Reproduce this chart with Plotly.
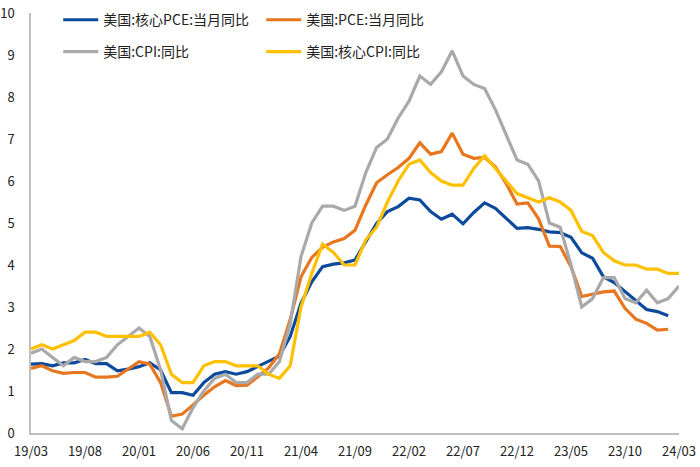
import plotly.graph_objects as go

# month labels 19/03 .. 24/03 (61 months)
months = []
yy, mm = 2019, 3
for _ in range(61):
    months.append(f"{yy % 100:02d}/{mm:02d}")
    mm += 1
    if mm > 12:
        mm = 1
        yy += 1

tick_labels = ["19/03", "19/08", "20/01", "20/06", "20/11", "21/04", "21/09",
               "22/02", "22/07", "22/12", "23/05", "23/10", "24/03"]

core_pce = [1.64, 1.65, 1.60, 1.67, 1.67, 1.75, 1.65, 1.65, 1.48, 1.52,
            1.58, 1.67, 1.50, 0.96, 0.96, 0.90, 1.20, 1.40, 1.46, 1.40, 1.46, 1.58,
            1.72, 1.83, 2.30, 3.09, 3.60, 3.96, 4.02, 4.05, 4.12, 4.55, 4.99, 5.27,
            5.39, 5.59, 5.55, 5.27, 5.09, 5.21, 4.98, 5.25, 5.48, 5.35, 5.11, 4.87,
            4.89, 4.85, 4.79, 4.77, 4.66, 4.29, 4.16, 3.72, 3.58, 3.36, 3.15, 2.94,
            2.89, 2.79]

pce = [1.54, 1.60, 1.48, 1.42, 1.44, 1.44, 1.33, 1.33, 1.35, 1.52,
       1.70, 1.64, 1.20, 0.40, 0.45, 0.67, 0.90, 1.10, 1.25, 1.13, 1.14, 1.34,
       1.55, 1.88, 2.70, 3.72, 4.18, 4.42, 4.55, 4.63, 4.83, 5.43, 5.96, 6.15,
       6.32, 6.54, 6.91, 6.64, 6.70, 7.14, 6.64, 6.54, 6.56, 6.34, 5.94, 5.45,
       5.48, 5.10, 4.45, 4.44, 3.96, 3.25, 3.31, 3.36, 3.38, 2.97, 2.71, 2.61,
       2.45, 2.47]

cpi = [1.9, 2.0, 1.8, 1.6, 1.8, 1.7, 1.7, 1.8, 2.1, 2.3,
       2.5, 2.3, 1.5, 0.3, 0.1, 0.6, 1.0, 1.3, 1.4, 1.2, 1.2, 1.4,
       1.4, 1.7, 2.6, 4.2, 5.0, 5.4, 5.4, 5.3, 5.4, 6.2, 6.8, 7.0,
       7.5, 7.9, 8.5, 8.3, 8.6, 9.1, 8.5, 8.3, 8.2, 7.7, 7.1, 6.5,
       6.4, 6.0, 5.0, 4.9, 4.0, 3.0, 3.2, 3.7, 3.7, 3.2, 3.1, 3.4,
       3.1, 3.2, 3.5]

core_cpi = [2.0, 2.1, 2.0, 2.1, 2.2, 2.4, 2.4, 2.3, 2.3, 2.3,
            2.3, 2.4, 2.1, 1.4, 1.2, 1.2, 1.6, 1.7, 1.7, 1.6, 1.6, 1.6,
            1.4, 1.3, 1.6, 3.0, 3.8, 4.5, 4.3, 4.0, 4.0, 4.6, 4.9, 5.5,
            6.0, 6.4, 6.5, 6.2, 6.0, 5.9, 5.9, 6.3, 6.6, 6.3, 6.0, 5.7,
            5.6, 5.5, 5.6, 5.5, 5.3, 4.8, 4.7, 4.3, 4.1, 4.0, 4.0, 3.9,
            3.9, 3.8, 3.8]

series = [
    ("美国:核心PCE:当月同比", core_pce, "#0D4A9B", "legend"),
    ("美国:PCE:当月同比", pce, "#E8761F", "legend"),
    ("美国:CPI:同比", cpi, "#A9A9A9", "legend2"),
    ("美国:核心CPI:同比", core_cpi, "#FFC000", "legend2"),
]

font_family = "Noto Sans CJK SC, Liberation Sans, sans-serif"

fig = go.Figure()
for name, vals, color, lg in series:
    fig.add_trace(go.Scatter(
        x=months[:len(vals)], y=vals, name=name, mode="lines",
        line=dict(color=color, width=3.2), legend=lg,
    ))

leg_common = dict(
    orientation="h", xanchor="left", yanchor="middle",
    font=dict(size=14, color="#222222", family=font_family),
    bgcolor="rgba(0,0,0,0)", borderwidth=0,
    entrywidth=153, entrywidthmode="pixels",
    itemwidth=35, tracegroupgap=0,
)

fig.update_layout(
    width=700, height=467,
    margin=dict(l=31, r=21, t=13, b=34, autoexpand=False),
    paper_bgcolor="white", plot_bgcolor="white",
    font=dict(family=font_family, size=13, color="#222222"),
    showlegend=True,
    legend=dict(x=0.042, y=0.983, **leg_common),
    legend2=dict(x=0.042, y=0.907, **leg_common),
    xaxis=dict(
        type="category", categoryorder="array", categoryarray=months,
        range=[0, 60], tickmode="array", tickvals=tick_labels, ticktext=tick_labels,
        showgrid=False, zeroline=False, showline=True, linecolor="#BFBFBF", linewidth=1.5,
        ticks="", tickfont=dict(size=13, color="#222222"), ticklabelstandoff=6,
        automargin=False,
    ),
    yaxis=dict(
        range=[0, 10], dtick=1, tick0=0,
        showgrid=False, zeroline=False, showline=True, linecolor="#BFBFBF", linewidth=1.5,
        ticks="", tickfont=dict(size=13, color="#222222"), ticklabelstandoff=12,
        automargin=False,
    ),
)

fig.write_html("out.html", config={"displayModeBar": False},
               post_script="document.body.style.margin='0';")
